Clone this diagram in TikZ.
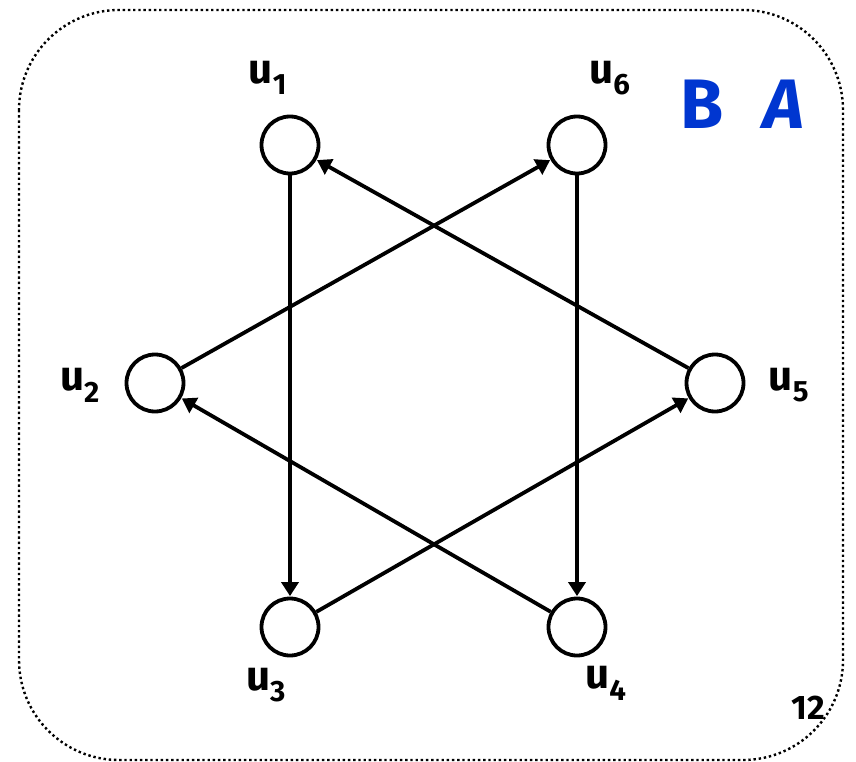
\documentclass[tikz,border=0pt]{standalone}
\usepackage{fontspec}
\setmainfont{Fira Sans}
\usepackage{xcolor}
\definecolor{clLetter}{HTML}{0036D0}
\usepackage{tikz}
\usetikzlibrary{arrows.meta,positioning}
\tikzset{
  vertex/.style={circle, draw, line width=3.8, minimum size=57, inner sep=0pt},
  vlabel/.style={font=\fontsize{42}{44}\selectfont\bfseries, inner sep=0pt},
  setlabel/.style={font=\fontsize{70}{72}\selectfont\bfseries, text=clLetter, inner sep=0pt},
  arc/.style={-{Triangle[length=14, width=17]}, line width=3.8, shorten >=0.5},
  frame/.style={line width=2.4, dash pattern=on 2.4 off 2.8, rounded corners=100},
}

\begin{document}
\begin{tikzpicture}[x=1pt, y=-1pt]
  \useasboundingbox (0,0) rectangle (856,762);
  % frame
  \draw[frame] (19,10) rectangle (843,760);
  % vertices
  \node[vertex] (u1) at (290,145) {};
  \node[vertex] (u6) at (577,145) {};
  \node[vertex] (u2) at (155,383) {};
  \node[vertex] (u5) at (715,383) {};
  \node[vertex] (u3) at (290,627) {};
  \node[vertex] (u4) at (577,627) {};
  % vertex names
  \node[vlabel] (l1) at (268,78) {u\textsubscript{1}};
  \node[vlabel] (l6) at (610,78) {u\textsubscript{6}};
  \node[vlabel] (l2) at (80,385) {u\textsubscript{2}};
  \node[vlabel] (l5) at (789,385) {u\textsubscript{5}};
  \node[vlabel] (l3) at (266,685) {u\textsubscript{3}};
  \node[vlabel] (l4) at (606,683) {u\textsubscript{4}};
  % arcs
  \draw[arc] (u1) -- (u3);
  \draw[arc] (u6) -- (u4);
  \draw[arc] (u2) -- (u6);
  \draw[arc] (u3) -- (u5);
  \draw[arc] (u5) -- (u1);
  \draw[arc] (u4) -- (u2);
  % sets and page number
  \node[setlabel] (sb) at (702,104) {B};
  \node[setlabel, font=\fontsize{70}{72}\selectfont\bfseries\itshape] (sa) at (784,104) {A};
  \node[vlabel, font=\fontsize{34}{36}\selectfont\bfseries] (pg) at (808,708) {12};
\end{tikzpicture}
\end{document}
